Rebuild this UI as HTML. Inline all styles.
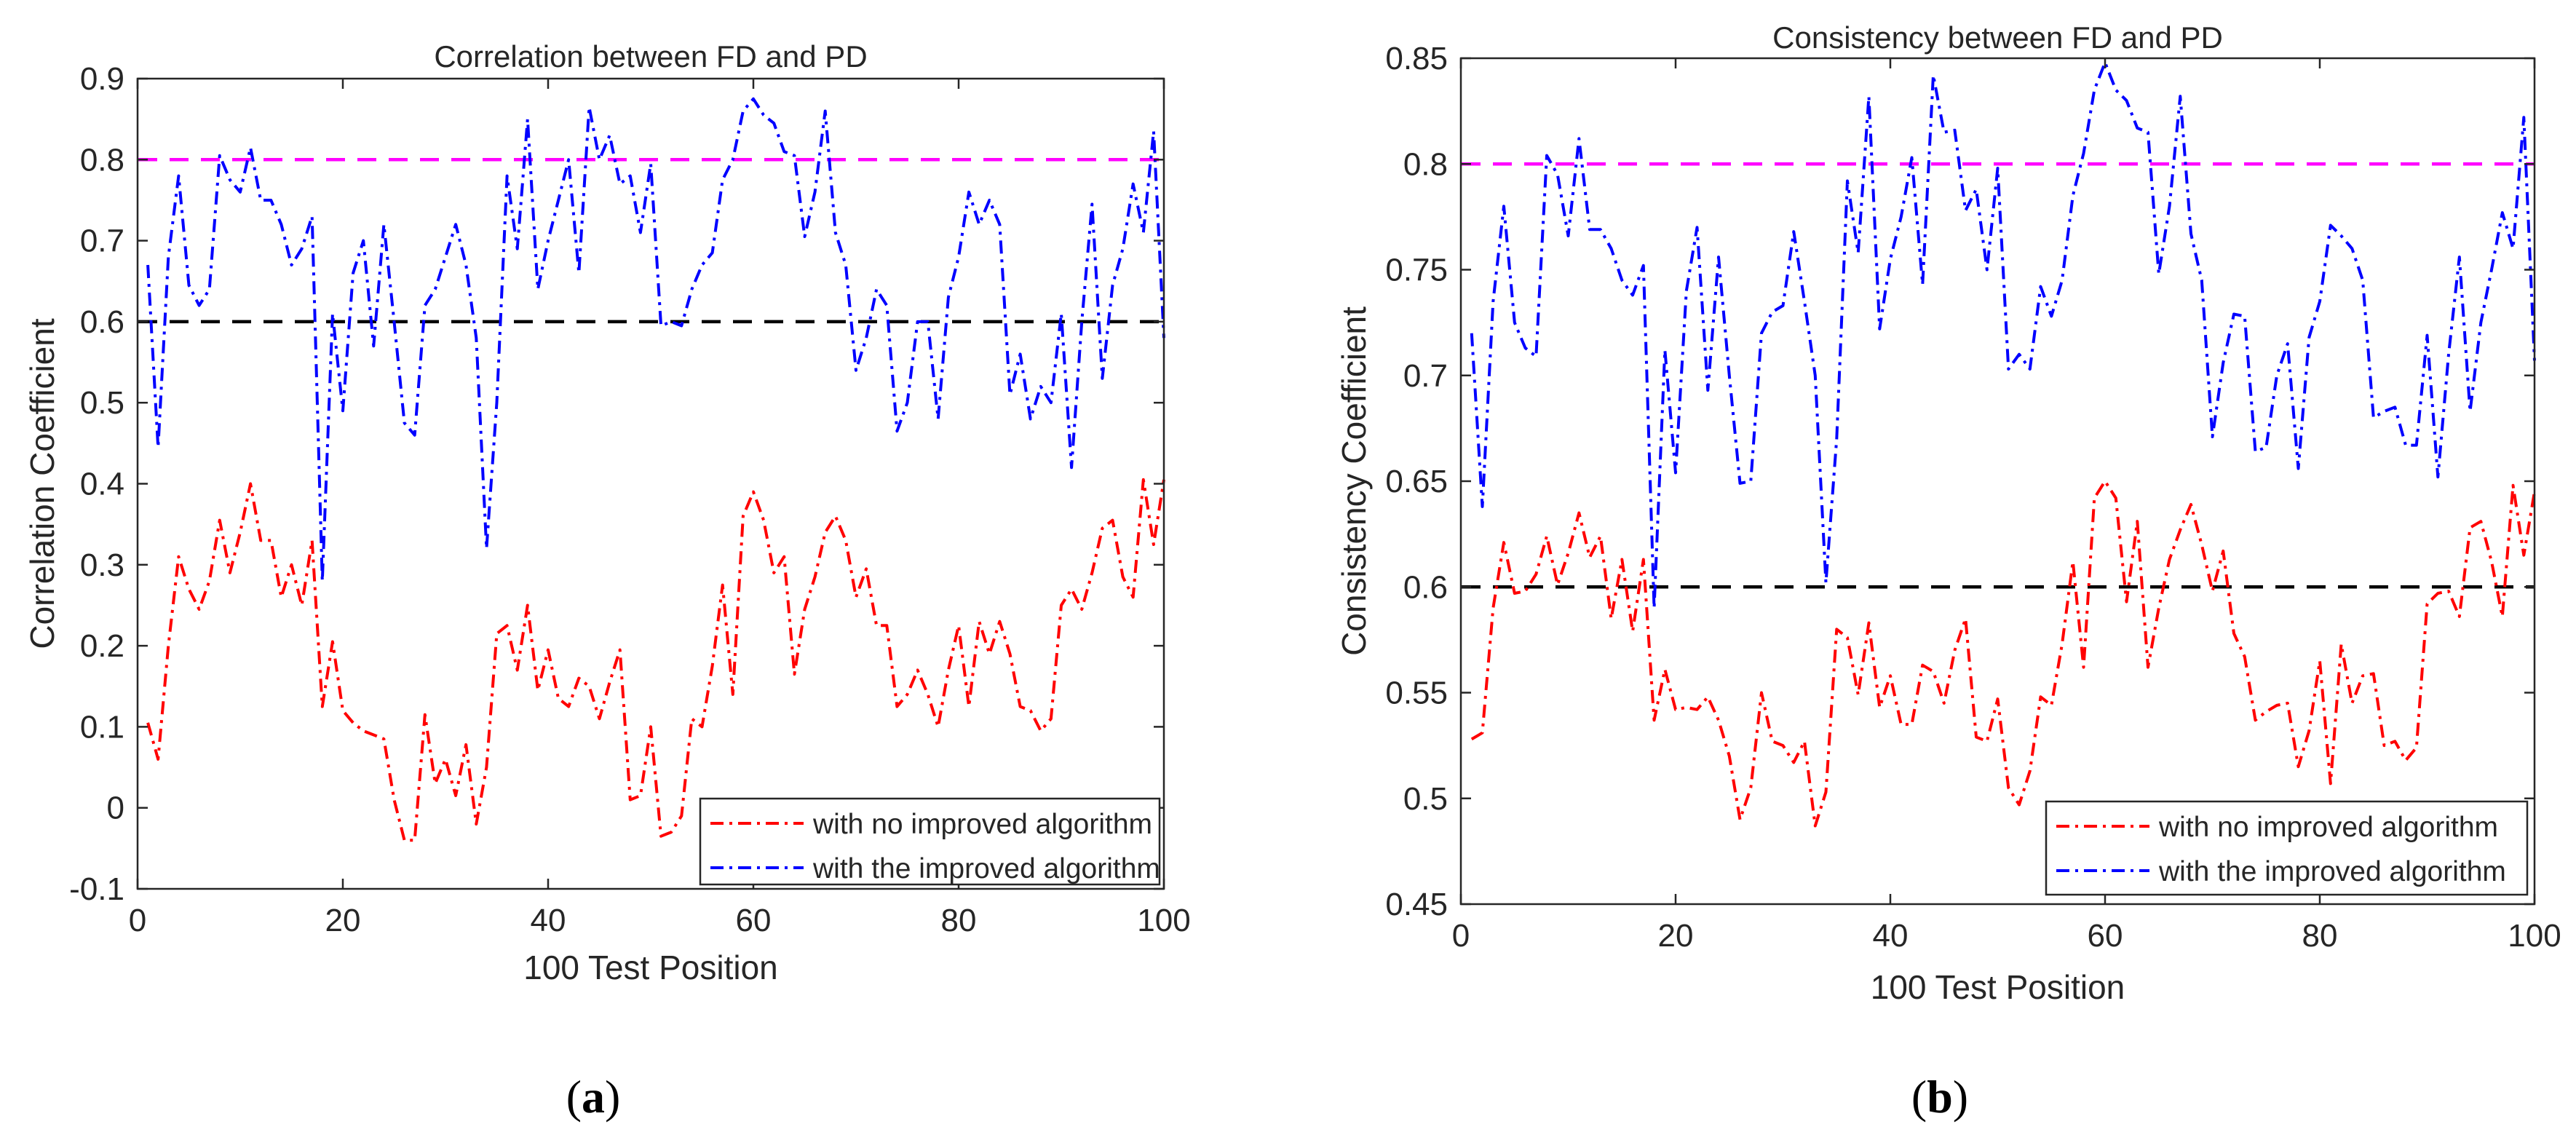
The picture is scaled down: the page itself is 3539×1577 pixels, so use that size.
<!DOCTYPE html>
<html><head><meta charset="utf-8">
<style>
html,body{margin:0;padding:0;background:#fff;}
svg{display:block;}
text{font-family:"Liberation Sans",Arial,sans-serif;fill:#262626;}
</style></head>
<body>
<svg id="fig" width="3539" height="1577" viewBox="0 0 3539 1577" xmlns="http://www.w3.org/2000/svg">
<rect x="0" y="0" width="3539" height="1577" fill="#fff"/>
<g id="pa"></g>
<g id="pb"></g>
<text x="815" y="1528" text-anchor="middle" style="font-family:'Liberation Serif',serif;font-size:64px;fill:#000">(<tspan font-weight="bold">a</tspan>)</text>
<text x="2665" y="1528" text-anchor="middle" style="font-family:'Liberation Serif',serif;font-size:64px;fill:#000">(<tspan font-weight="bold">b</tspan>)</text>
</svg>
<script>
const xTicks = [0,20,40,60,80,100];
const aYTicks = [-0.1,0,0.1,0.2,0.3,0.4,0.5,0.6,0.7,0.8,0.9];
const aYLabels = ["-0.1","0","0.1","0.2","0.3","0.4","0.5","0.6","0.7","0.8","0.9"];
const bYTicks = [0.45,0.5,0.55,0.6,0.65,0.7,0.75,0.8,0.85];
const bYLabels = ["0.45","0.5","0.55","0.6","0.65","0.7","0.75","0.8","0.85"];
const aBlue = [0.67,0.445,0.68,0.78,0.645,0.62,0.64,0.805,0.775,0.76,0.815,0.75,0.75,0.72,0.67,0.69,0.73,0.28,0.61,0.49,0.66,0.70,0.57,0.72,0.60,0.475,0.46,0.62,0.64,0.68,0.72,0.67,0.58,0.32,0.50,0.78,0.69,0.85,0.64,0.70,0.75,0.80,0.66,0.865,0.80,0.83,0.77,0.78,0.71,0.795,0.595,0.60,0.595,0.64,0.67,0.685,0.775,0.80,0.86,0.875,0.855,0.845,0.81,0.805,0.705,0.76,0.86,0.71,0.67,0.54,0.58,0.64,0.62,0.465,0.50,0.60,0.60,0.48,0.63,0.68,0.76,0.72,0.75,0.72,0.51,0.56,0.48,0.52,0.50,0.61,0.42,0.60,0.745,0.53,0.645,0.69,0.77,0.71,0.835,0.58];
const aRed = [0.105,0.06,0.20,0.31,0.27,0.245,0.28,0.355,0.29,0.34,0.40,0.33,0.33,0.26,0.30,0.25,0.33,0.125,0.205,0.12,0.105,0.095,0.09,0.085,0.01,-0.04,-0.04,0.115,0.03,0.06,0.015,0.078,-0.02,0.05,0.215,0.225,0.17,0.25,0.145,0.195,0.135,0.125,0.16,0.15,0.11,0.155,0.195,0.01,0.015,0.10,-0.035,-0.03,-0.01,0.11,0.10,0.175,0.275,0.14,0.36,0.39,0.355,0.29,0.31,0.165,0.245,0.285,0.34,0.36,0.33,0.26,0.295,0.225,0.225,0.125,0.14,0.17,0.14,0.10,0.17,0.225,0.125,0.23,0.19,0.23,0.19,0.125,0.12,0.095,0.11,0.25,0.27,0.245,0.29,0.345,0.355,0.285,0.26,0.405,0.325,0.405];
const bBlue = [0.72,0.638,0.735,0.78,0.725,0.713,0.709,0.804,0.795,0.766,0.812,0.769,0.769,0.76,0.745,0.738,0.752,0.59,0.712,0.654,0.74,0.77,0.693,0.756,0.70,0.649,0.65,0.72,0.73,0.733,0.768,0.735,0.70,0.602,0.67,0.792,0.758,0.832,0.722,0.755,0.775,0.803,0.743,0.842,0.815,0.816,0.778,0.788,0.75,0.798,0.703,0.71,0.703,0.742,0.728,0.745,0.785,0.805,0.835,0.848,0.835,0.83,0.817,0.815,0.748,0.78,0.832,0.767,0.745,0.671,0.706,0.729,0.728,0.664,0.666,0.70,0.715,0.656,0.718,0.735,0.771,0.766,0.76,0.745,0.68,0.683,0.685,0.667,0.667,0.719,0.652,0.71,0.756,0.683,0.725,0.75,0.777,0.76,0.822,0.707];
const bRed = [0.528,0.531,0.59,0.621,0.597,0.598,0.606,0.624,0.601,0.616,0.635,0.614,0.624,0.585,0.613,0.579,0.613,0.537,0.561,0.542,0.543,0.542,0.548,0.537,0.52,0.49,0.505,0.55,0.527,0.525,0.517,0.527,0.487,0.503,0.58,0.576,0.549,0.583,0.543,0.558,0.535,0.535,0.563,0.56,0.545,0.57,0.585,0.529,0.527,0.547,0.505,0.497,0.513,0.548,0.544,0.573,0.612,0.562,0.642,0.65,0.642,0.593,0.631,0.562,0.59,0.613,0.627,0.639,0.62,0.598,0.617,0.578,0.567,0.537,0.541,0.544,0.545,0.515,0.532,0.565,0.507,0.573,0.545,0.558,0.559,0.525,0.527,0.518,0.524,0.592,0.597,0.598,0.586,0.628,0.631,0.612,0.586,0.648,0.615,0.645];
const aRefLines = [0.8,0.6];
const bRefLines = [0.8,0.6];
const legendLabels = ["with no improved algorithm","with the improved algorithm"];

const NS="http://www.w3.org/2000/svg";
function mk(parent,tag,attrs,txt){const e=document.createElementNS(NS,tag);for(const k in attrs)e.setAttribute(k,attrs[k]);if(txt!==undefined)e.textContent=txt;parent.appendChild(e);return e;}

function drawPanel(g,cfg){
  const L=cfg.L,R=cfg.R,T=cfg.T,B=cfg.B;
  const xs=v=>L+(v-0)/(100-0)*(R-L);
  const ys=v=>B-(v-cfg.ymin)/(cfg.ymax-cfg.ymin)*(B-T);
  // ref lines
  const refCol=["#ff00ff","#000000"];
  cfg.refs.forEach((r,i)=>{
    const ln=mk(g,'line',{x1:L+1,x2:R-1,y1:ys(r),y2:ys(r),stroke:refCol[i],'stroke-width':4.5,'stroke-dasharray':'26,17'});
    
    
  });
  // series
  const series=[[cfg.red,'#ff0000','series-no-improved'],[cfg.blue,'#0000ff','series-improved']];
  series.forEach(s=>{
    const pts=s[0].map((v,i)=>xs(i+1).toFixed(1)+','+ys(v).toFixed(1)).join(' ');
    const pl=mk(g,'polyline',{points:pts,fill:'none',stroke:s[1],'stroke-width':4,'stroke-dasharray':'18,8,4,8','stroke-linejoin':'round'});
    
    
  });
  // axes box
  const box=mk(g,'rect',{x:L,y:T,width:R-L,height:B-T,fill:'none',stroke:'#262626','stroke-width':2.5});
  
  
  const tl=14;
  xTicks.forEach(t=>{
    const x=xs(t);
    mk(g,'line',{x1:x,x2:x,y1:B,y2:B-tl,stroke:'#262626','stroke-width':2.5});
    mk(g,'line',{x1:x,x2:x,y1:T,y2:T+tl,stroke:'#262626','stroke-width':2.5});
    const tx=mk(g,'text',{x:x,y:B+58,'text-anchor':'middle','font-size':44},String(t));
    
    
  });
  cfg.yt.forEach((t,i)=>{
    const y=ys(t);
    mk(g,'line',{x1:L,x2:L+tl,y1:y,y2:y,stroke:'#262626','stroke-width':2.5});
    mk(g,'line',{x1:R,x2:R-tl,y1:y,y2:y,stroke:'#262626','stroke-width':2.5});
    const tx=mk(g,'text',{x:L-18,y:y+15,'text-anchor':'end','font-size':44},cfg.yl[i]);
    
    
  });
  const ti=mk(g,'text',{x:(L+R)/2,y:cfg.titleY,'text-anchor':'middle','font-size':42,fill:'#000'},cfg.title);
  
  
  const xl=mk(g,'text',{x:(L+R)/2,y:cfg.xlabY,'text-anchor':'middle','font-size':46},'100 Test Position');
  
  
  const yl=mk(g,'text',{x:0,y:0,'text-anchor':'middle','font-size':46,transform:'translate('+cfg.ylabX+','+((T+B)/2)+') rotate(-90)'},cfg.ylab);
  
  
  // legend
  const lg=mk(g,'g',{});
  
  
  mk(lg,'rect',{x:cfg.lgL,y:cfg.lgT,width:cfg.lgR-cfg.lgL,height:cfg.lgB-cfg.lgT,fill:'#fff',stroke:'#262626','stroke-width':2.5});
  const cols=['#ff0000','#0000ff'];
  legendLabels.forEach((lab,i)=>{
    const y=cfg.lgT+34+i*61;
    const ent=mk(lg,'g',{});
    
    
    mk(ent,'line',{x1:cfg.lgL+14,x2:cfg.lgL+142,y1:y,y2:y,stroke:cols[i],'stroke-width':4,'stroke-dasharray':'18,8,4,8'});
    mk(ent,'text',{x:cfg.lgL+155,y:y+14,'font-size':39,fill:'#000'},lab);
  });
}
drawPanel(document.getElementById('pa'),{L:189,R:1599,T:108,B:1221,ymin:-0.1,ymax:0.9,yt:aYTicks,yl:aYLabels,red:aRed,blue:aBlue,refs:aRefLines,
  title:'Correlation between FD and PD',titleY:92,xlabY:1345,ylab:'Correlation Coefficient',ylabX:74,lgL:962,lgR:1593,lgT:1097,lgB:1215});
drawPanel(document.getElementById('pb'),{L:2007,R:3482,T:80,B:1242,ymin:0.45,ymax:0.85,yt:bYTicks,yl:bYLabels,red:bRed,blue:bBlue,refs:bRefLines,
  title:'Consistency between FD and PD',titleY:66,xlabY:1372,ylab:'Consistency Coefficient',ylabX:1876,lgL:2811,lgR:3472,lgT:1101,lgB:1229});
</script>
</body></html>
